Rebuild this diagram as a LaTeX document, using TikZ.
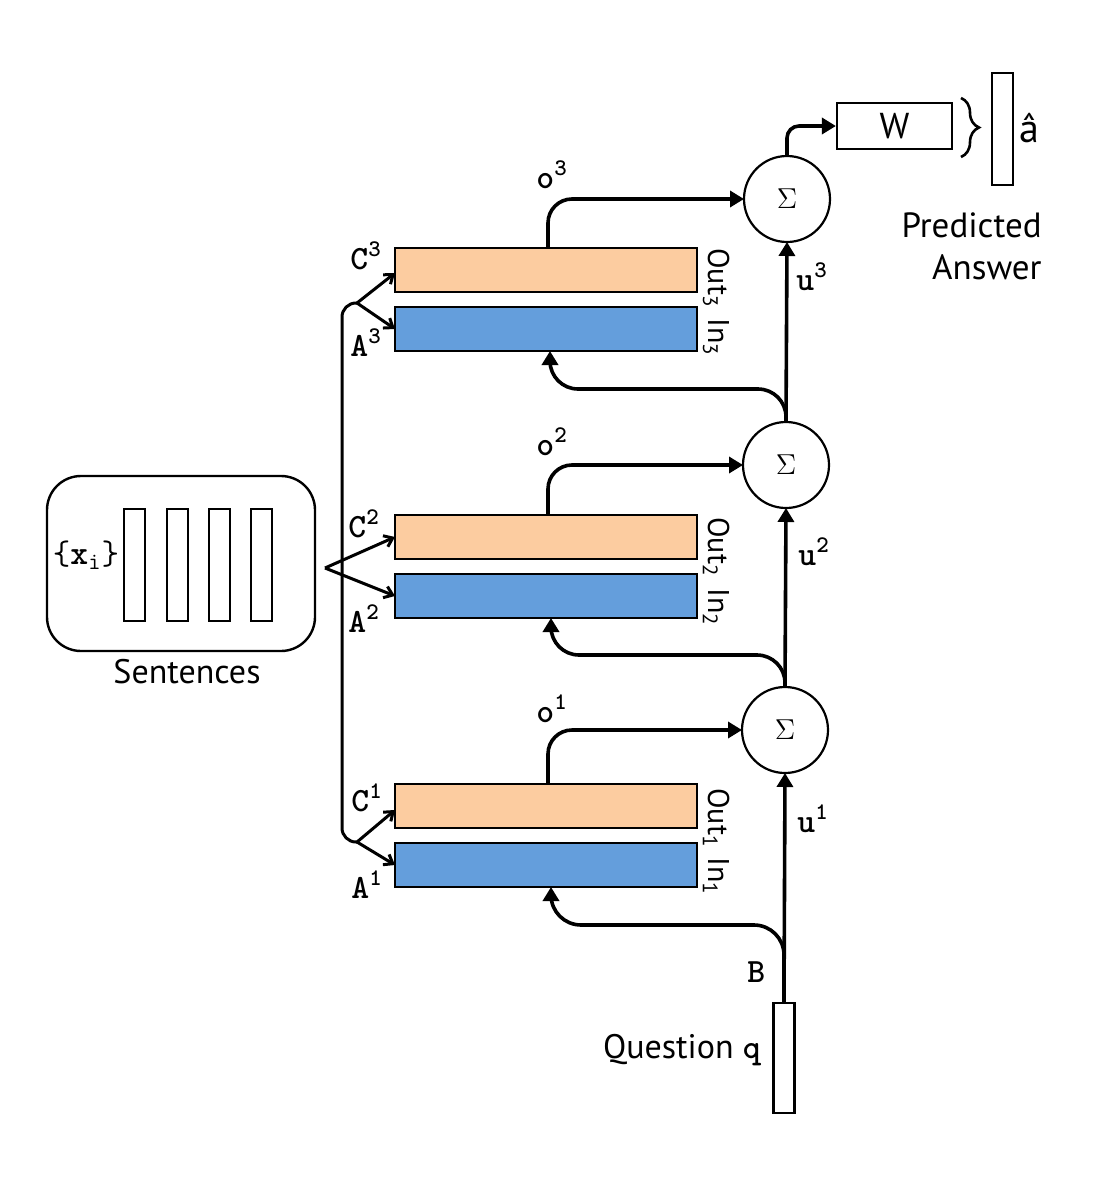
\documentclass[tikz,border=0pt]{standalone}
\usepackage{fontspec}
\newfontfamily\sansf{PT Sans}
\newfontfamily\monob{lmmonolt10-bold.otf}
\usetikzlibrary{arrows.meta,decorations.pathreplacing,calc}
\definecolor{peach}{RGB}{252,204,160}
\definecolor{sky}{RGB}{100,158,220}
\begin{document}
\begin{tikzpicture}[x=0.5pt,y=-0.5pt,
  mem/.style={draw, line width=1.2pt, minimum width=151pt, minimum height=22pt, inner sep=0pt, outer sep=0pt},
  outbox/.style={mem, fill=peach},
  inbox/.style={mem, fill=sky},
  sumnode/.style={circle, draw, line width=1.1pt, minimum size=43pt, inner sep=0pt, outer sep=0pt, font=\fontsize{15}{15}\selectfont},
  vecbar/.style={draw, line width=1.1pt, minimum width=10.5pt, minimum height=56pt, inner sep=0pt, outer sep=0pt},
  flow/.style={line width=1.8pt, -{Triangle[length=7pt,width=8pt]}, rounded corners=12pt},
  branch/.style={line width=1.5pt, -{Straight Barb[length=4pt,width=6pt]}},
  spine/.style={line width=1.5pt, rounded corners=7pt},
  ml/.style={inner sep=0pt, font=\monob\fontsize{17}{17}\selectfont},
  sl/.style={inner sep=0pt, font=\sansf\fontsize{17}{21}\selectfont},
  rl/.style={inner sep=0pt, rotate=-90, anchor=base west, font=\sansf\fontsize{15}{15}\selectfont}
]
\useasboundingbox (0,0) rectangle (1104,1178);

% Sentences
\node[draw, rounded corners=17pt, line width=1.2pt, minimum width=134pt, minimum height=87.5pt, inner sep=0pt] (sent) at (181,563.5) {};
\node[vecbar] (x1) at (134.5,565) {};
\node[vecbar] (x2) at (177.5,565) {};
\node[vecbar] (x3) at (219.5,565) {};
\node[vecbar] (x4) at (261.5,565) {};
\node[ml, anchor=base] (xi) at (86,564) {{\ttfamily\{}x\textsubscript{\ttfamily i}{\ttfamily\}}};
\node[sl, anchor=base] (sentlbl) at (187,683) {Sentences};

% memory boxes
\node[outbox] (C3) at (546,270) {};
\node[inbox]  (A3) at (546,329) {};
\node[outbox] (C2) at (546,537) {};
\node[inbox]  (A2) at (546,596) {};
\node[outbox] (C1) at (546,806) {};
\node[inbox]  (A1) at (546,865) {};

% box labels
\node[ml, anchor=base west] (lC3) at (350,269) {C\textsuperscript{3}};
\node[ml, anchor=base west] (lA3) at (350,356) {A\textsuperscript{3}};
\node[ml, anchor=base west] (lC2) at (348,537) {C\textsuperscript{2}};
\node[ml, anchor=base west] (lA2) at (348,632) {A\textsuperscript{2}};
\node[ml, anchor=base west] (lC1) at (351,811) {C\textsuperscript{1}};
\node[ml, anchor=base west] (lA1) at (351,898) {A\textsuperscript{1}};

\node[rl] (out3) at (708,248) {Out\textsubscript{3}};
\node[rl] (in3)  at (708,318) {In\textsubscript{3}};
\node[rl] (out2) at (708,517) {Out\textsubscript{2}};
\node[rl] (in2)  at (708,588) {In\textsubscript{2}};
\node[rl] (out1) at (708,788) {Out\textsubscript{1}};
\node[rl] (in1)  at (708,857) {In\textsubscript{1}};

% sums
\node[sumnode] (S3) at (787,199) {$\Sigma$};
\node[sumnode] (S2) at (786,465) {$\Sigma$};
\node[sumnode] (S1) at (785,730) {$\Sigma$};

% question
\node[vecbar, minimum height=55pt] (q) at (784,1058) {};
\node[sl, anchor=base east] (qlbl) at (761,1058) {Question {\monob q}};
\node[ml, anchor=base west] (lB) at (747,982) {B};

% output
\node[draw, line width=1.1pt, minimum width=57.5pt, minimum height=23pt, inner sep=0pt, font=\sansf\fontsize{18}{18}\selectfont] (W) at (894.5,126) {W};
\node[vecbar] (ah) at (1002.5,129) {};
\node[sl, anchor=base west, font=\sansf\fontsize{20}{20}\selectfont] (ahl) at (1019,142) {\^{a}};
\node[sl, align=right, anchor=north east, font=\sansf\fontsize{17.5}{21}\selectfont] (pred) at (1042,212) {Predicted\\Answer};
\draw[line width=1.3pt, decorate, decoration={brace, amplitude=9pt}] (961,98) -- (961,157);

% branches from sentences
\coordinate (j3) at (357,303);
\coordinate (j2) at (325,568);
\coordinate (j1) at (357,842);
\draw[spine] (j3) -- (342,303) -- (342,842) -- (j1);
\draw[branch] (j3) -- ([yshift=-1.5pt]C3.west);
\draw[branch] (j3) -- (A3.west);
\draw[branch] (j2) -- (C2.west);
\draw[branch] (j2) -- (A2.west);
\draw[branch] (j1) -- ([yshift=-2pt]C1.west);
\draw[branch] (j1) -- (A1.west);

% outputs o
\draw[flow] ([xshift=1pt]C3.north) |- (S3.west);
\draw[flow] ([xshift=1pt]C2.north) |- (S2.west);
\draw[flow] ([xshift=1pt]C1.north) |- (S1.west);
\node[ml, anchor=base west] (lo3) at (536,188) {o\textsuperscript{3}};
\node[ml, anchor=base west] (lo2) at (536,455) {o\textsuperscript{2}};
\node[ml, anchor=base west] (lo1) at (536,722) {o\textsuperscript{1}};

% u
\draw[flow] (S2.north) -- (S3.south);
\draw[flow] (S1.north) -- (S2.south);
\draw[flow] (q.north) -- (S1.south);
\node[ml, anchor=base west] (lu3) at (796,290) {u\textsuperscript{3}};
\node[ml, anchor=base west] (lu2) at (798,565) {u\textsuperscript{2}};
\node[ml, anchor=base west] (lu1) at (797,832) {u\textsuperscript{1}};

% feedback into A
\draw[flow, rounded corners=14pt] (S2.north) |- ([xshift=2pt,yshift=-19pt]A3.south) -- ([xshift=2pt]A3.south);
\draw[flow, rounded corners=14pt] (S1.north) |- ([xshift=2.5pt,yshift=-18.5pt]A2.south) -- ([xshift=2.5pt]A2.south);
\draw[flow, rounded corners=15pt] (q.north) |- ([xshift=2.5pt,yshift=-19pt]A1.south) -- ([xshift=2.5pt]A1.south);

% to W
\draw[flow, rounded corners=6pt] (S3.north) |- (W.west);
\end{tikzpicture}
\end{document}
